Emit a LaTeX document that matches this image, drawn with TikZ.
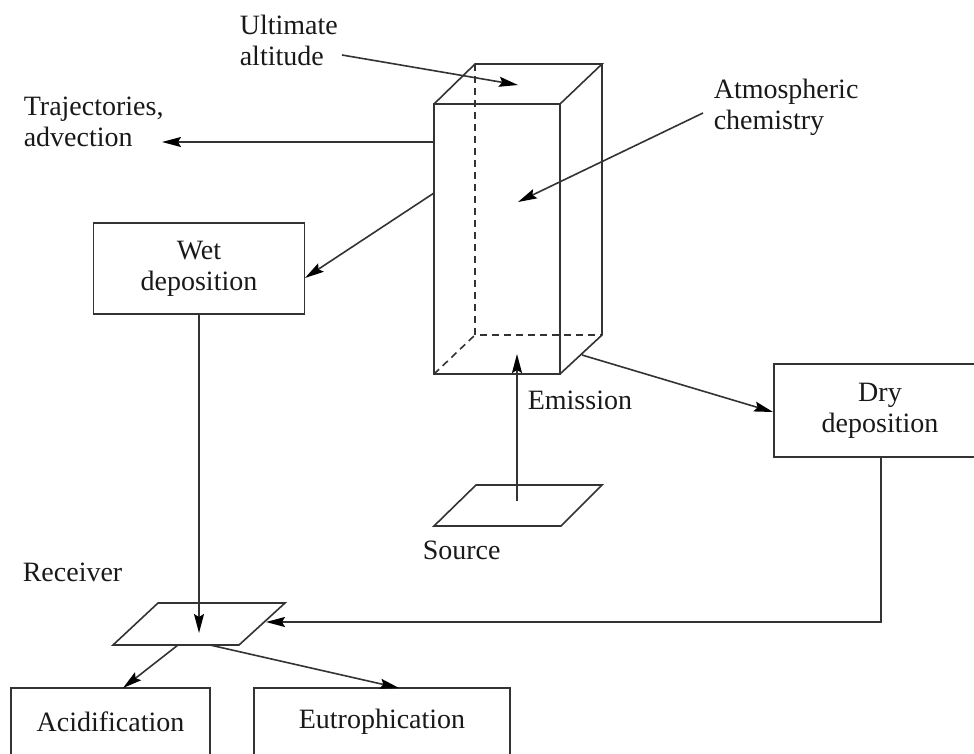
\documentclass[tikz,border=0pt]{standalone}
\usepackage{fontspec}
\setmainfont{Liberation Serif}
\usetikzlibrary{arrows.meta}
\begin{document}
\begin{tikzpicture}[x=1pt,y=-1pt,
  line width=1.6pt, draw=black!80,
  lbl/.style={font=\fontsize{28}{31}\selectfont, align=left, inner sep=0pt, anchor=west, text=black!90},
  boxnode/.style={draw, rectangle, inner sep=0pt, font=\fontsize{28}{31}\selectfont, align=center, text=black!90},
  arr/.style={-{Stealth[length=19pt,width=10pt,inset=3pt,color=black]}},
  dsh/.style={dash pattern=on 7pt off 5pt}]
\useasboundingbox (0,0) rectangle (974,753);
\clip (0,0) rectangle (974,753);

% cuboid
\draw (434,104) rectangle (560,374);
\draw (434,104) -- (475,64) -- (602,64) -- (560,104);
\draw (602,64) -- (602,335) -- (560,374);
\draw[dsh] (475,64) -- (475,335) -- (602,335);
\draw[dsh] (434,374) -- (475,335);

% parallelograms
\draw (476,485) -- (602,485) -- (561,526) -- (434,526) -- cycle;
\draw (158,603) -- (285,603) -- (239,645) -- (113,645) -- cycle;

% labels
\node[lbl] (ult) at (239,40) {Ultimate\\altitude};
\node[lbl] (traj) at (23,122) {Trajectories,\\advection};
\node[lbl] (atm) at (713,107) {Atmospheric\\chemistry};
\node[lbl] (emi) at (527,400) {Emission};
\node[lbl] (src) at (422,550) {Source};
\node[lbl] (rec) at (22,572) {Receiver};

% boxes
\node[boxnode, minimum width=211pt, minimum height=91pt] (wet) at (199,268.5) {Wet\\deposition};
\node[boxnode, minimum width=212pt, minimum height=93pt] (dry) at (880,410.5) {Dry\\deposition};
\node[boxnode, minimum width=199pt, minimum height=68pt] (acid) at (110.5,722) {Acidification};
\node[boxnode, minimum width=256pt, minimum height=68pt] (eut) at (382,722) {Eutrophication};

% coordinates
\coordinate (ultS) at (342,55);
\coordinate (ultT) at (518,85);
\coordinate (trajS) at (434,142);
\coordinate (trajT) at (162,142);
\coordinate (atmS) at (703,113);
\coordinate (atmT) at (518,202);
\coordinate (wetS) at (434,193);
\coordinate (wetT) at (305,278);
\coordinate (dryS) at (582,355);
\coordinate (dryT) at (773,412);
\coordinate (emiS) at (517,501);
\coordinate (emiT) at (517,354);
\coordinate (wdT) at (199,633);
\coordinate (dryB) at (881,622);
\coordinate (recR) at (266,622);
\coordinate (acS) at (178,645);
\coordinate (acT) at (123,688);
\coordinate (euS) at (210,645);
\coordinate (euT) at (399,688);

% connectors
\draw[arr] (ultS) -- (ultT);
\draw[arr] (trajS) -- (trajT);
\draw[arr] (atmS) -- (atmT);
\draw[arr] (wetS) -- (wetT);
\draw[arr] (dryS) -- (dryT);
\draw[arr] (emiS) -- (emiT);
\draw[arr] (wet.south) -- (wdT);
\draw[arr] (dry.south -| dryB) -- (dryB) -- (recR);
\draw[arr] (acS) -- (acT);
\draw[arr] (euS) -- (euT);
\end{tikzpicture}
\end{document}
